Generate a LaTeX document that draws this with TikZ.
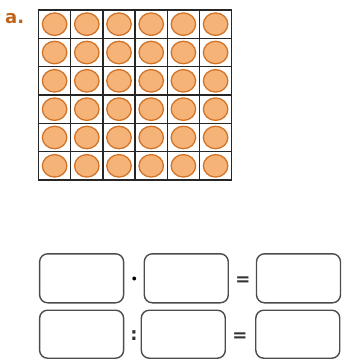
\documentclass[tikz,border=0pt]{standalone}
\usepackage{fontspec}
\setmainfont{DejaVu Sans}
\usetikzlibrary{shapes.geometric}
\begin{document}
\begin{tikzpicture}[x=1pt,y=-1pt,
  cellline/.style={line width=1.5pt, draw=black!85},
  dotcell/.style={ellipse, minimum width=24.5pt, minimum height=22.5pt, inner sep=0pt, fill=dotfill, draw=dotedge, line width=1.3pt},
  ansbox/.style={draw=black!70, line width=1.4pt, rounded corners=8pt, minimum width=84pt, minimum height=49pt, inner sep=0pt},
  op/.style={font=\bfseries\fontsize{18}{18}\selectfont, text=black!80, inner sep=0pt}]
\definecolor{dotfill}{HTML}{F6B378}
\definecolor{dotedge}{HTML}{D0742A}
\definecolor{labelc}{HTML}{C0621A}
\useasboundingbox (0,0) rectangle (342,360);
\node[anchor=west, text=labelc, font=\bfseries\fontsize{18}{18}\selectfont, inner sep=0pt] (lab) at (5,19) {a.};
% grid
\foreach \k in {0,...,6}{
  \draw[cellline] ({38.5+32.2*\k},10) -- ({38.5+32.2*\k},180);
  \draw[cellline] (38.5,{10+28.33*\k}) -- (231.7,{10+28.33*\k});
}
\foreach \i in {0,...,5}{
  \foreach \j in {0,...,5}{
    \node[dotcell] (c\i\j) at ({38.5+16.1+32.2*\i},{10+14.17+28.33*\j}) {};
  }
}
% boxes
\node[ansbox] (b11) at (81.6,278.3) {};
\node[ansbox] (b12) at (186.3,278.3) {};
\node[ansbox] (b13) at (298.5,278.3) {};
\node[ansbox, minimum height=48pt] (b21) at (81.6,334.2) {};
\node[ansbox, minimum height=48pt] (b22) at (183.3,334.2) {};
\node[ansbox, minimum height=48pt] (b23) at (297.8,334.2) {};
\node[op, font=\fontsize{10}{10}\selectfont, text=black] (m1) at (134.3,279) {$\bullet$};
\node[op] (e1) at (243,281) {=};
\node[op] (d2) at (134,336) {:};
\node[op] (e2) at (240,337) {=};
\end{tikzpicture}
\end{document}
